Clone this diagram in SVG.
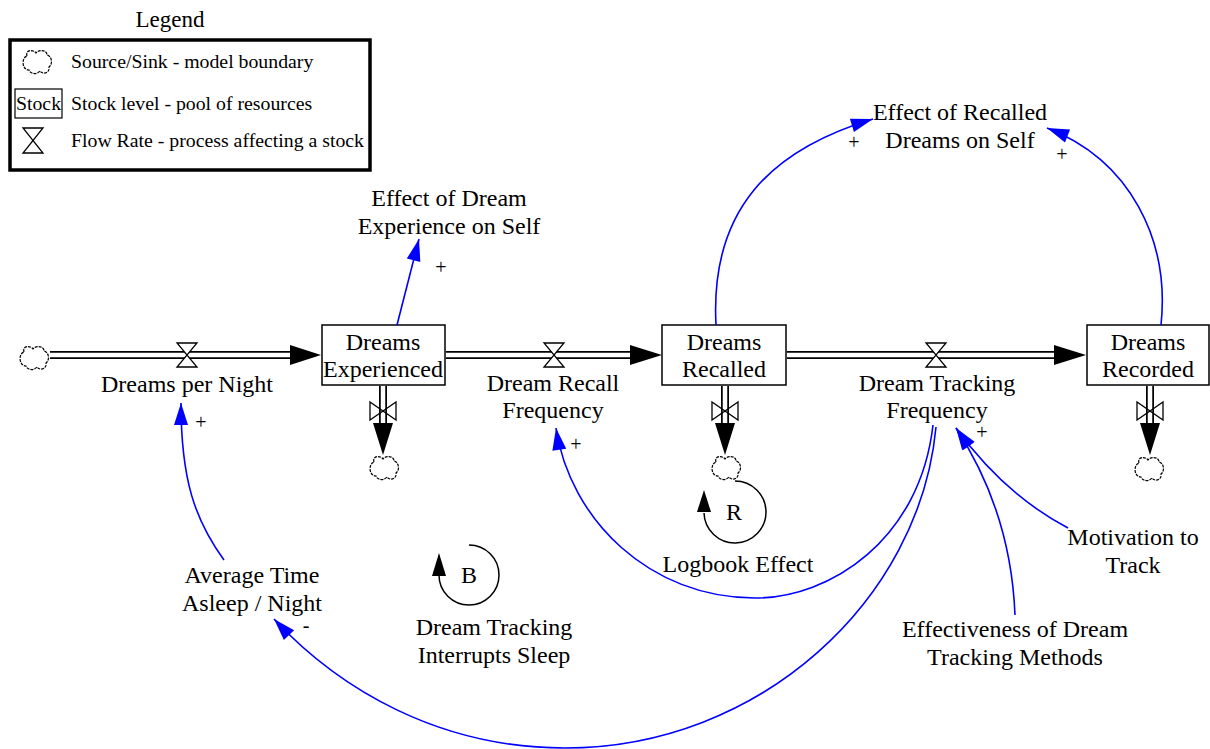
<svg xmlns="http://www.w3.org/2000/svg" width="1210" height="749" viewBox="0 0 1210 749" font-family="'Liberation Serif', Tinos, 'DejaVu Serif', serif">
<style>
text{font-family:'Liberation Serif', Tinos, 'Times New Roman', 'DejaVu Serif', serif;fill:#000}
.lbl{font-size:24px;text-anchor:middle}
.leg{font-size:19.8px}
.pol{font-size:20px;text-anchor:middle}
.stock{fill:#fff;stroke:#000;stroke-width:1.5}
.pipeO{stroke:#000;stroke-width:8;fill:none}
.pipeI{stroke:#fff;stroke-width:4.5;fill:none}
.valve{fill:#fff;stroke:#000;stroke-width:1.3}
.valveV{fill:none;stroke:#000;stroke-width:1.3}
.cloud{fill:#fff;stroke:#000;stroke-width:1.2;stroke-dasharray:3 1}
.link{fill:none;stroke:#0000ff;stroke-width:1.6}
.loop{fill:none;stroke:#000;stroke-width:1.5}
</style>
<defs>
<marker id="ah" markerUnits="userSpaceOnUse" markerWidth="22" markerHeight="14" refX="22" refY="7" orient="auto" overflow="visible">
<path d="M0,0 L22,7 L0,14 Z" fill="#0000ff"/>
</marker>
<path id="cl" class="cloud" d="M-10,-6 C-12,-12 -4,-13 -1,-9 C2,-13 10,-12 10,-7 C15,-6 16,2 12,5 C13,11 6,13 3,9 C0,13 -7,12 -8,8 C-15,8 -16,-4 -10,-6 Z"/>
<path id="vh" class="valve" d="M-10,-12 L10,-12 L-10,12 L10,12 Z"/>
<path id="vv" class="valveV" d="M-13,-9 L-13,9 L13,-9 L13,9 Z"/>
</defs>

<g id="legend">
<text x="170" y="27" style="font-size:23px;text-anchor:middle">Legend</text>
<rect x="10" y="40" width="360" height="130" fill="#fff" stroke="#000" stroke-width="3.5"/>
<use href="#cl" x="37" y="62"/>
<text class="leg" x="71" y="68">Source/Sink - model boundary</text>
<rect x="15" y="89" width="47" height="29" fill="#fff" stroke="#000" stroke-width="1.2"/>
<text class="leg" x="38.5" y="110" text-anchor="middle">Stock</text>
<text class="leg" x="71" y="110">Stock level - pool of resources</text>
<path d="M23,128 L43,128 L23,153 L43,153 Z" fill="none" stroke="#000" stroke-width="1.3"/>
<text class="leg" x="71" y="147">Flow Rate - process affecting a stock</text>
</g>

<g id="flows">
<path class="pipeO" d="M50,355 H291 M446,355 H631 M787,355 H1055 M383,386 V424 M725,386 V424 M1150,386 V424"/>
<path class="pipeI" d="M48,355 H292 M446,355 H632 M787,355 H1056 M383,386 V425 M725,386 V425 M1150,386 V425"/>
<polygon points="290,345 321,355 290,365" fill="#000"/>
<polygon points="630,345 662,355 630,365" fill="#000"/>
<polygon points="1054,345 1086,355 1054,365" fill="#000"/>
<polygon points="373,423 393,423 383,455" fill="#000"/>
<polygon points="715,423 735,423 725,455" fill="#000"/>
<polygon points="1140,423 1160,423 1150,455" fill="#000"/>
<use href="#vh" x="187" y="355"/>
<use href="#vh" x="554" y="355"/>
<use href="#vh" x="936" y="355"/>
<use href="#vv" x="383" y="411"/>
<use href="#vv" x="725" y="411"/>
<use href="#vv" x="1150" y="411"/>
</g>

<g id="source"><use href="#cl" x="34" y="358"/></g>
<g id="sink1"><use href="#cl" x="384" y="468"/></g>
<g id="sink2"><use href="#cl" x="726" y="468"/></g>
<g id="sink3"><use href="#cl" x="1149" y="469"/></g>

<g id="dreams-experienced">
<rect class="stock" x="322" y="325" width="123" height="60"/>
<text class="lbl" x="383" y="350">Dreams</text>
<text class="lbl" x="383" y="377">Experienced</text>
</g>
<g id="dreams-recalled">
<rect class="stock" x="662" y="325" width="124" height="60"/>
<text class="lbl" x="724" y="350">Dreams</text>
<text class="lbl" x="724" y="377">Recalled</text>
</g>
<g id="dreams-recorded">
<rect class="stock" x="1087" y="325" width="122" height="60"/>
<text class="lbl" x="1148" y="350">Dreams</text>
<text class="lbl" x="1148" y="377">Recorded</text>
</g>

<g id="dreams-per-night"><text class="lbl" x="187" y="392">Dreams per Night</text></g>
<g id="dream-recall-frequency">
<text class="lbl" x="553" y="391">Dream Recall</text>
<text class="lbl" x="553" y="418">Frequency</text>
</g>
<g id="dream-tracking-frequency">
<text class="lbl" x="937" y="391">Dream Tracking</text>
<text class="lbl" x="937" y="418">Frequency</text>
</g>
<g id="effect-dream-experience">
<text class="lbl" x="449" y="206">Effect of Dream</text>
<text class="lbl" x="449" y="234">Experience on Self</text>
</g>
<g id="effect-recalled-dreams">
<text class="lbl" x="960" y="120">Effect of Recalled</text>
<text class="lbl" x="960" y="148">Dreams on Self</text>
</g>
<g id="average-time-asleep">
<text class="lbl" x="252" y="583">Average Time</text>
<text class="lbl" x="252" y="611">Asleep / Night</text>
</g>
<g id="motivation">
<text class="lbl" x="1133" y="545">Motivation to</text>
<text class="lbl" x="1133" y="573">Track</text>
</g>
<g id="effectiveness">
<text class="lbl" x="1015" y="637">Effectiveness of Dream</text>
<text class="lbl" x="1015" y="665">Tracking Methods</text>
</g>

<g id="loop-B">
<path class="loop" d="M469,545 A30,30 0 1 1 439,575"/>
<polygon points="432,576 446,576 439,553" fill="#000"/>
<text class="lbl" x="469" y="583">B</text>
<text class="lbl" x="494" y="635">Dream Tracking</text>
<text class="lbl" x="494" y="663">Interrupts Sleep</text>
</g>
<g id="loop-R">
<path class="loop" d="M735,481 A31,31 0 1 1 704,513"/>
<polygon points="697,512 711,512 704,490" fill="#000"/>
<text class="lbl" x="734" y="520">R</text>
<text class="lbl" x="738" y="572">Logbook Effect</text>
</g>

<g id="connectors">
<path class="link" marker-end="url(#ah)" d="M397,325 L419,239"/>
<path class="link" marker-end="url(#ah)" d="M716,325 C710,210 770,150 873,119"/>
<path class="link" marker-end="url(#ah)" d="M1161,325 C1170,240 1130,160 1047,128"/>
<path class="link" marker-end="url(#ah)" d="M224,560 C195,520 181,480 181,403"/>
<path class="link" marker-end="url(#ah)" d="M933,425 C920,540 830,598 755,598 C650,598 570,520 556,428"/>
<path class="link" marker-end="url(#ah)" d="M936,427 C920,600 760,748 565,748 C440,748 340,690 274,619"/>
<path class="link" marker-end="url(#ah)" d="M1015,615 C1012,540 990,480 956,428"/>
<path class="link" marker-end="url(#ah)" d="M1068,528 C1030,508 990,475 956,428"/>
<text class="pol" x="441" y="274">+</text>
<text class="pol" x="854" y="149">+</text>
<text class="pol" x="1062" y="161">+</text>
<text class="pol" x="201" y="429">+</text>
<text class="pol" x="576" y="451">+</text>
<text class="pol" x="982" y="439">+</text>
<text class="pol" x="306" y="632">-</text>
</g>
</svg>
